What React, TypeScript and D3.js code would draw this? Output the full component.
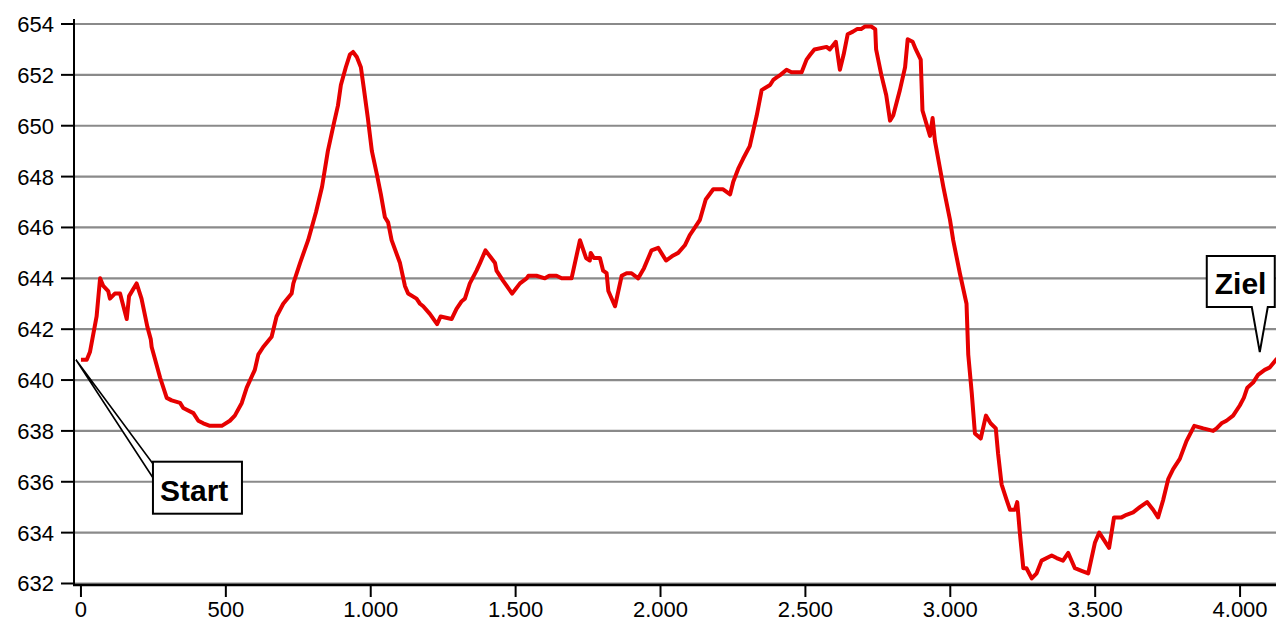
import React, { useEffect, useRef } from 'react';
import * as d3 from 'd3';

// distance along the route (m) and elevation (m)
const distance = [
  0, 20, 31, 54, 66, 77, 94, 100, 117, 135, 158, 166, 192, 209, 229, 241, 244, 273, 296, 313,
  342, 353, 388, 405, 422, 445, 486, 514, 531, 555, 572, 600, 612, 629, 658, 675, 698, 727, 733,
  756, 784, 811, 832, 852, 873, 887, 897, 914, 928, 939, 952, 966, 977, 990, 1004, 1021, 1035,
  1049, 1060, 1072, 1101, 1118, 1129, 1158, 1170, 1181, 1204, 1229, 1241, 1279, 1296, 1314, 1325,
  1342, 1365, 1377, 1396, 1429, 1434, 1457, 1488, 1515, 1538, 1544, 1572, 1601, 1616, 1641, 1659,
  1693, 1722, 1743, 1756, 1759, 1770, 1791, 1802, 1814, 1820, 1843, 1866, 1883, 1900, 1923, 1943,
  1969, 1992, 2019, 2044, 2061, 2084, 2101, 2119, 2136, 2156, 2182, 2216, 2240, 2251, 2268, 2285,
  2308, 2332, 2349, 2378, 2389, 2401, 2414, 2435, 2452, 2487, 2504, 2517, 2531, 2573, 2584, 2605,
  2619, 2632, 2646, 2664, 2678, 2692, 2705, 2727, 2741, 2744, 2762, 2779, 2792, 2803, 2826, 2844,
  2853, 2870, 2881, 2898, 2904, 2930, 2939, 2947, 2976, 2999, 3010, 3033, 3056, 3062, 3074, 3085,
  3105, 3123, 3139, 3157, 3165, 3177, 3194, 3206, 3223, 3231, 3240, 3252, 3263, 3281, 3298, 3315,
  3350, 3367, 3389, 3407, 3430, 3453, 3476, 3499, 3514, 3548, 3565, 3591, 3608, 3631, 3654, 3679,
  3700, 3717, 3735, 3752, 3769, 3792, 3815, 3842, 3873, 3907, 3919, 3936, 3953, 3976, 3999, 4013,
  4025, 4045, 4062, 4085, 4103, 4124, 4144,
];

const elevation = [
  640.8, 640.8, 641.1, 642.5, 644.0, 643.7, 643.5, 643.2, 643.4, 643.4, 642.4, 643.3, 643.8, 643.2,
  642.1, 641.6, 641.3, 640.1, 639.3, 639.2, 639.1, 638.9, 638.7, 638.4, 638.3, 638.2, 638.2, 638.4,
  638.6, 639.1, 639.7, 640.4, 641.0, 641.3, 641.7, 642.5, 643.0, 643.4, 643.8, 644.6, 645.5, 646.6,
  647.6, 649.0, 650.1, 650.8, 651.6, 652.3, 652.8, 652.9, 652.7, 652.3, 651.4, 650.3, 649.0, 648.1,
  647.3, 646.4, 646.2, 645.5, 644.6, 643.7, 643.4, 643.2, 643.0, 642.9, 642.6, 642.2, 642.5, 642.4,
  642.8, 643.1, 643.2, 643.8, 644.3, 644.6, 645.1, 644.6, 644.3, 643.9, 643.4, 643.8, 644.0, 644.1,
  644.1, 644.0, 644.1, 644.1, 644.0, 644.0, 645.5, 644.8, 644.7, 645.0, 644.8, 644.8, 644.3, 644.2,
  643.5, 642.9, 644.1, 644.2, 644.2, 644.0, 644.4, 645.1, 645.2, 644.7, 644.9, 645.0, 645.3, 645.7,
  646.0, 646.3, 647.1, 647.5, 647.5, 647.3, 647.8, 648.3, 648.7, 649.2, 650.4, 651.4, 651.6, 651.8,
  651.9, 652.0, 652.2, 652.1, 652.1, 652.6, 652.8, 653.0, 653.1, 653.0, 653.3, 652.2, 652.8, 653.6,
  653.7, 653.8, 653.8, 653.9, 653.9, 653.8, 653.0, 652.0, 651.2, 650.2, 650.4, 651.4, 652.3, 653.4,
  653.3, 653.0, 652.6, 650.6, 649.6, 650.3, 649.4, 647.6, 646.3, 645.5, 644.2, 643.0, 641.0, 639.5,
  637.9, 637.7, 638.6, 638.3, 638.1, 637.1, 635.9, 635.3, 634.9, 634.9, 635.2, 634.0, 632.6, 632.6,
  632.2, 632.4, 632.9, 633.1, 633.0, 632.9, 633.2, 632.6, 632.5, 632.4, 633.6, 634.0, 633.4, 634.6,
  634.6, 634.7, 634.8, 635.0, 635.2, 634.9, 634.6, 635.3, 636.1, 636.5, 636.9, 637.6, 638.2, 638.1,
  638.0, 638.1, 638.3, 638.4, 638.6, 639.0, 639.3, 639.7, 639.9, 640.2, 640.4, 640.5, 640.8, 641.0,
];

const xTicks = [0, 500, 1000, 1500, 2000, 2500, 3000, 3500, 4000];
const yTicks = [632, 634, 636, 638, 640, 642, 644, 646, 648, 650, 652, 654];

// callouts: label text and the data point they point at
const labels = ['Start', 'Ziel'];
const labelX = [0, 4068];
const labelY = [640.8, 641.1];

const W = 1276;
const H = 622;
const FONT = "'Liberation Sans', Arial, sans-serif";

const de = d3.formatLocale({ decimal: ',', thousands: '.', grouping: [3], currency: ['', ' €'] });

export default function App() {
  const ref = useRef<SVGSVGElement>(null);

  useEffect(() => {
    const svg = d3.select(ref.current);
    svg.selectAll('*').remove();

    const left = 74;
    const x = d3.scaleLinear().domain([-24, 4124]).range([left, W]);
    const y = d3.scaleLinear().domain([632, 654]).range([583.5, 24]);

    svg
      .append('defs')
      .append('clipPath')
      .attr('id', 'plot')
      .append('rect')
      .attr('x', left)
      .attr('y', 0)
      .attr('width', W - left)
      .attr('height', 586);

    // grid
    svg
      .append('g')
      .selectAll('line')
      .data(yTicks)
      .join('line')
      .attr('x1', left)
      .attr('x2', W)
      .attr('y1', (d) => y(d))
      .attr('y2', (d) => y(d))
      .attr('stroke', '#8a8a8a')
      .attr('stroke-width', 2.2);

    // y axis
    const gy = svg.append('g').attr('font-family', FONT).attr('font-size', 22);
    gy.append('line')
      .attr('x1', left)
      .attr('x2', left)
      .attr('y1', 19)
      .attr('y2', 586)
      .attr('stroke', '#000')
      .attr('stroke-width', 2);
    gy.selectAll('.tick')
      .data(yTicks)
      .join('line')
      .attr('x1', 61)
      .attr('x2', left)
      .attr('y1', (d) => y(d))
      .attr('y2', (d) => y(d))
      .attr('stroke', '#000')
      .attr('stroke-width', 2);
    gy.selectAll('text')
      .data(yTicks)
      .join('text')
      .attr('x', 54)
      .attr('y', (d) => y(d))
      .attr('dy', '0.36em')
      .attr('text-anchor', 'end')
      .attr('fill', '#000')
      .text((d) => String(d));

    // x axis
    const gx = svg.append('g').attr('font-family', FONT).attr('font-size', 22);
    gx.append('line')
      .attr('x1', left - 1)
      .attr('x2', W)
      .attr('y1', 585)
      .attr('y2', 585)
      .attr('stroke', '#000')
      .attr('stroke-width', 2.5);
    gx.selectAll('.tick')
      .data(xTicks)
      .join('line')
      .attr('x1', (d) => x(d))
      .attr('x2', (d) => x(d))
      .attr('y1', 586)
      .attr('y2', 597)
      .attr('stroke', '#000')
      .attr('stroke-width', 2);
    gx.selectAll('text')
      .data(xTicks)
      .join('text')
      .attr('x', (d) => x(d))
      .attr('y', 617)
      .attr('text-anchor', 'middle')
      .attr('fill', '#000')
      .text((d) => de.format(',')(d));

    // profile
    const line = d3
      .line<number>()
      .x((d) => x(d))
      .y((_, i) => y(elevation[i]));
    svg
      .append('path')
      .datum(distance)
      .attr('clip-path', 'url(#plot)')
      .attr('fill', 'none')
      .attr('stroke', '#e60000')
      .attr('stroke-width', 4)
      .attr('stroke-linejoin', 'round')
      .attr('d', line);

    // Start callout (box below right, tail to the point)
    const sx = x(labelX[0]) - 5;
    const sy = y(labelY[0]);
    const start = svg.append('g').attr('font-family', FONT);
    start
      .append('path')
      .attr('d', `M${sx},${sy} L${sx + 77},${sy + 104} L${sx + 77},${sy + 118} Z`)
      .attr('fill', '#fff')
      .attr('stroke', '#000')
      .attr('stroke-width', 1.6);
    start
      .append('rect')
      .attr('x', sx + 77)
      .attr('y', sy + 102)
      .attr('width', 89)
      .attr('height', 52)
      .attr('fill', '#fff')
      .attr('stroke', '#000')
      .attr('stroke-width', 2);
    start
      .append('text')
      .attr('x', sx + 84)
      .attr('y', sy + 141)
      .attr('font-size', 30)
      .attr('font-weight', 'bold')
      .text(labels[0]);

    // Ziel callout (box above, pointed tail down)
    const zx = x(labelX[1]);
    const zy = y(labelY[1]);
    const ziel = svg.append('g').attr('font-family', FONT);
    ziel
      .append('path')
      .attr(
        'd',
        `M${zx - 53},${zy - 96} L${zx + 15},${zy - 96} L${zx + 15},${zy - 45} L${zx + 8},${zy - 45} ` +
          `L${zx},${zy} L${zx - 8},${zy - 45} L${zx - 53},${zy - 45} Z`
      )
      .attr('fill', '#fff')
      .attr('stroke', '#000')
      .attr('stroke-width', 2);
    ziel
      .append('text')
      .attr('x', zx - 45)
      .attr('y', zy - 58)
      .attr('font-size', 30)
      .attr('font-weight', 'bold')
      .text(labels[1]);
  }, []);

  return (
    <svg
      ref={ref}
      width={W}
      height={H}
      style={{ position: 'absolute', left: 0, top: 0, background: '#fff' }}
    />
  );
}
